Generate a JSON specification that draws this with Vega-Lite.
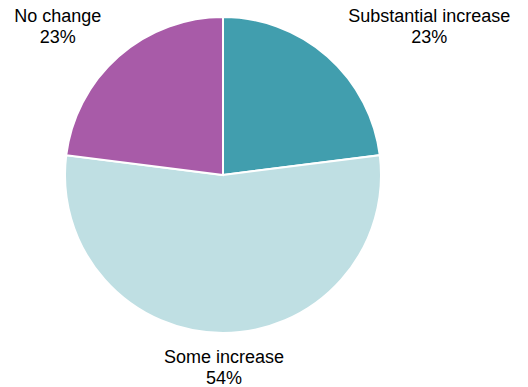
{
  "$schema": "https://vega.github.io/schema/vega-lite/v6.json",
  "width": 446,
  "height": 350,
  "autosize": "none",
  "padding": {"left": 0, "top": 0, "right": 82, "bottom": 37},
  "background": "white",
  "view": {"stroke": null},
  "data": {"values": [
    {"category": "Substantial increase", "value": 23},
    {"category": "Some increase", "value": 54},
    {"category": "No change", "value": 23}
  ]},
  "transform": [
    {"window": [{"op": "row_number", "as": "idx"}]},
    {"calculate": "datum.category + '\\n' + datum.value + '%'", "as": "label"}
  ],
  "encoding": {
    "theta": {"field": "value", "type": "quantitative", "stack": true},
    "order": {"field": "idx", "type": "quantitative"}
  },
  "layer": [
    {
      "mark": {"type": "arc", "outerRadius": 158, "stroke": "white", "strokeWidth": 2},
      "encoding": {
        "color": {
          "field": "category",
          "type": "nominal",
          "scale": {"domain": ["Substantial increase", "Some increase", "No change"], "range": ["#419EAE", "#BFDFE3", "#A85BA8"]},
          "legend": null
        }
      }
    },
    {
      "mark": {"type": "text", "radius": 200, "dx": 74, "dy": -8, "font": "Liberation Sans", "fontSize": 18, "lineBreak": "\n", "lineHeight": 21, "color": "black", "baseline": "middle", "align": "center"},
      "encoding": {"text": {"condition": {"test": "datum.category === 'Substantial increase'", "field": "label"}, "value": ""}}
    },
    {
      "mark": {"type": "text", "radius": 200, "dx": -33, "dy": -8, "font": "Liberation Sans", "fontSize": 18, "lineBreak": "\n", "lineHeight": 21, "color": "black", "baseline": "middle", "align": "center"},
      "encoding": {"text": {"condition": {"test": "datum.category === 'No change'", "field": "label"}, "value": ""}}
    },
    {
      "mark": {"type": "text", "radius": 200, "dx": 1, "dy": -17, "font": "Liberation Sans", "fontSize": 18, "lineBreak": "\n", "lineHeight": 21, "color": "black", "baseline": "middle", "align": "center"},
      "encoding": {"text": {"condition": {"test": "datum.category === 'Some increase'", "field": "label"}, "value": ""}}
    }
  ]
}
